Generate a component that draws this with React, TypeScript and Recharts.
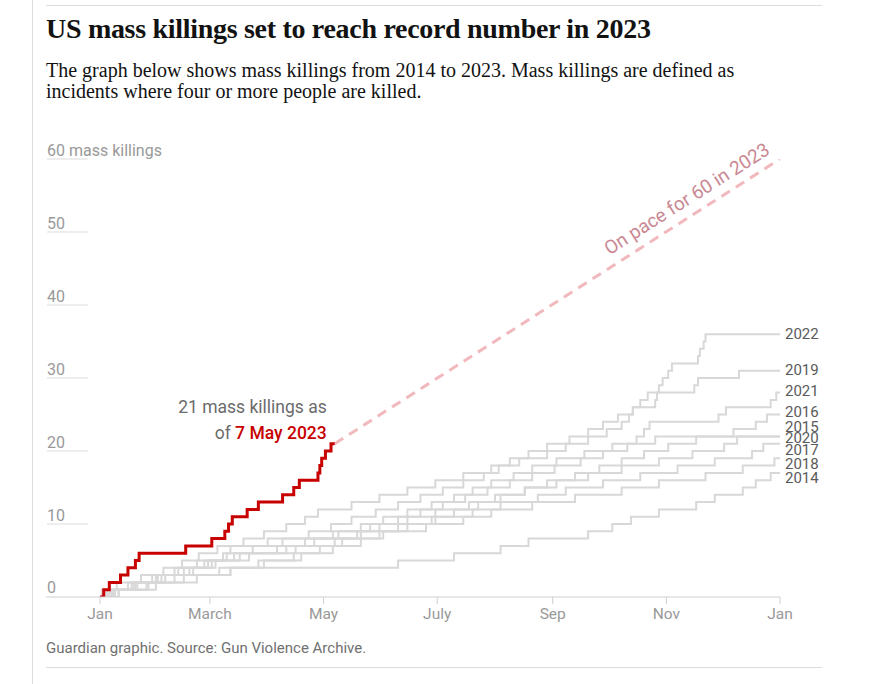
import React from 'react';
import { ComposedChart, Line, XAxis, YAxis, ReferenceDot } from 'recharts';

// ---- categories / ticks ----
const monthTicks = [0, 59, 120, 181, 243, 304, 365];
const monthLabels = ['Jan', 'March', 'May', 'July', 'Sep', 'Nov', 'Jan'];
const yTicks = [0, 10, 20, 30, 40, 50, 60];
const yTickLabels = ['0', '10', '20', '30', '40', '50', '60 mass killings'];

// ---- day-of-year of each mass killing, per year ----
const days2014 = [10, 25, 40, 70, 160, 190, 215, 230, 262, 275, 285, 300, 320, 330, 345, 352, 360];
const days2015 = [4, 17, 33, 48, 58, 72, 95, 110, 128, 145, 165, 180, 198, 212, 228, 245, 262, 280, 300, 318, 335, 342];
const days2016 = [6, 26, 45, 64, 85, 108, 125, 140, 152, 165, 178, 190, 203, 215, 228, 240, 255, 268, 280, 292, 305, 320, 340, 352, 358];
const days2017 = [8, 20, 30, 45, 60, 75, 100, 115, 140, 160, 180, 200, 215, 235, 250, 270, 290, 310, 330, 350, 356];
const days2018 = [5, 18, 35, 50, 62, 80, 105, 130, 150, 175, 195, 210, 232, 255, 280, 300, 325, 345, 362];
const days2019 = [7, 19, 31, 42, 56, 68, 82, 98, 112, 124, 135, 148, 160, 172, 184, 195, 206, 214, 220, 230, 240, 252, 262, 270, 278, 286, 298, 299, 319, 321, 343];
const days2020 = [3, 15, 28, 40, 52, 66, 70, 90, 125, 140, 152, 165, 178, 190, 200, 210, 222, 232, 245, 260, 275, 298];
const days2021 = [10, 30, 52, 70, 88, 104, 118, 126, 138, 150, 160, 172, 184, 196, 208, 220, 232, 244, 258, 270, 283, 288, 292, 295, 332, 336, 360, 363];
const days2022 = [1, 9, 22, 34, 44, 53, 63, 77, 88, 100, 110, 117, 135, 150, 165, 180, 195, 210, 225, 240, 250, 262, 272, 280, 284, 286, 290, 294, 300, 302, 305, 307, 321, 322, 324, 325];
const days2023 = [2, 5, 11, 15, 19, 21, 46, 60, 67, 69, 71, 79, 85, 98, 104, 107, 117, 118, 119, 121, 124];

const pastYears = ['2014', '2015', '2016', '2017', '2018', '2019', '2020', '2021', '2022'];
const pastDays = [days2014, days2015, days2016, days2017, days2018, days2019, days2020, days2021, days2022];

const yearEndDay = 365;
const lastDay2023 = 126; // 7 May
const paceTarget = 60;

// label nudges (pixels) so the year names do not collide
const labelNudge: Record<string, number> = {
  '2022': 0, '2019': -1, '2021': -1.5, '2016': -2.5, '2015': -9.5, '2020': 2, '2017': 6, '2018': 6, '2014': 5.5,
};

type Pt = { day: number; v: number };
const cumulative = (days: number[], endDay: number): Pt[] => {
  const pts: Pt[] = [{ day: 0, v: 0 }];
  days.forEach((d, i) => pts.push({ day: d, v: i + 1 }));
  pts.push({ day: endDay, v: days.length });
  return pts;
};

const series = pastYears.map((y, i) => ({ year: y, data: cumulative(pastDays[i], yearEndDay), total: pastDays[i].length }));
const series2023 = cumulative(days2023, lastDay2023);
const paceData: Pt[] = [
  { day: lastDay2023, v: days2023.length },
  { day: yearEndDay, v: paceTarget },
];

const SANS = 'Roboto, "Noto Sans", sans-serif';

const YTick = (props: any) => {
  const { y, payload } = props;
  const idx = yTicks.indexOf(payload.value);
  const label = yTickLabels[idx];
  const isZero = payload.value === 0;
  return (
    <g>
      {isZero ? (
        <line x1={46} x2={100} y1={y} y2={y} stroke="#cfcfcf" strokeWidth={1} />
      ) : (
        <line x1={47} x2={88} y1={y} y2={y} stroke="#dcdcdc" strokeWidth={1} />
      )}
      <text x={47} y={y - (isZero ? 4 : 3)} fill="#999" fontSize={16} fontFamily={SANS}>
        {label}
      </text>
    </g>
  );
};

const YearLabel = (props: any) => {
  const { viewBox, text, nudge } = props;
  const x = viewBox.x + viewBox.width / 2 + 5;
  const y = viewBox.y + viewBox.height / 2 + nudge;
  return (
    <text x={x} y={y} dominantBaseline="central" fill="#5a5a5a" fontSize={15} fontFamily={SANS}>
      {text}
    </text>
  );
};

const NowLabel = (props: any) => {
  const { viewBox } = props;
  const cx = viewBox.x + viewBox.width / 2;
  const cy = viewBox.y + viewBox.height / 2;
  return (
    <g fontFamily={SANS} fontSize={17.5}>
      <text x={cx - 8} y={cy - 31} textAnchor="end" fill="#6b6b6b">
        {`${days2023.length} mass killings as`}
      </text>
      <text x={cx - 8} y={cy - 5} textAnchor="end" fill="#6b6b6b">
        <tspan>of </tspan>
        <tspan fill="#c70000" fontWeight={500}>7 May 2023</tspan>
      </text>
    </g>
  );
};

const PaceLabel = (props: any) => {
  const { viewBox } = props;
  const cx = viewBox.x + viewBox.width / 2 - 9;
  const cy = viewBox.y + viewBox.height / 2 - 6;
  return (
    <text
      x={cx}
      y={cy}
      textAnchor="end"
      fill="#c98893"
      fontSize={19}
      fontFamily={SANS}
      transform={`rotate(-32.4 ${cx} ${cy})`}
    >
      {`On pace for ${paceTarget} in 2023`}
    </text>
  );
};

export default function App() {
  return (
    <div style={{ position: 'absolute', left: 0, top: 0, width: 895, height: 684, background: '#fff', overflow: 'hidden' }}>
      <div style={{ position: 'absolute', left: 32, top: 0, width: 1, height: 684, background: '#dcdcdc' }} />
      <div style={{ position: 'absolute', left: 46, top: 5, width: 776, height: 1, background: '#dcdcdc' }} />
      <div style={{ position: 'absolute', left: 46, top: 667, width: 776, height: 1, background: '#dcdcdc' }} />
      <div
        style={{
          position: 'absolute', left: 46, top: 12, fontFamily: '"Liberation Serif", serif', fontWeight: 700,
          fontSize: 28, lineHeight: '34px', color: '#121212', letterSpacing: -0.3, whiteSpace: 'nowrap',
        }}
      >
        US mass killings set to reach record number in 2023
      </div>
      <div
        style={{
          position: 'absolute', left: 46, top: 60, fontFamily: '"Liberation Serif", serif',
          fontSize: 20, lineHeight: '21px', color: '#121212', whiteSpace: 'nowrap',
        }}
      >
        The graph below shows mass killings from 2014 to 2023. Mass killings are defined as
        <br />
        incidents where four or more people are killed.
      </div>
      <div
        style={{
          position: 'absolute', left: 46, top: 638, fontFamily: SANS, fontSize: 15, lineHeight: '20px', color: '#707070', whiteSpace: 'nowrap',
        }}
      >
        Guardian graphic. Source: Gun Violence Archive.
      </div>
      <div style={{ position: 'absolute', left: 0, top: 0 }}>
        <ComposedChart width={895} height={684} margin={{ top: 159, right: 115, bottom: 57, left: 40 }}>
          <XAxis
            dataKey="day"
            type="number"
            domain={[0, yearEndDay]}
            ticks={monthTicks}
            tickFormatter={(v: number) => monthLabels[monthTicks.indexOf(v)]}
            interval={0}
            height={30}
            axisLine={{ stroke: '#cfcfcf' }}
            tickLine={{ stroke: '#cfcfcf' }}
            tickSize={7}
            tickMargin={4}
            tick={{ fill: '#999', fontSize: 15.5, fontFamily: SANS }}
            allowDataOverflow
          />
          <YAxis
            type="number"
            domain={[0, 60]}
            ticks={yTicks}
            interval={0}
            width={60}
            axisLine={false}
            tickLine={false}
            tick={<YTick />}
            allowDataOverflow
          />
          {series.map((s) => (
            <Line
              key={s.year}
              data={s.data}
              dataKey="v"
              type="stepAfter"
              stroke="#d8d8d8"
              strokeWidth={2}
              dot={false}
              activeDot={false}
              isAnimationActive={false}
            />
          ))}
          <Line
            data={paceData}
            dataKey="v"
            type="linear"
            stroke="#f1b8bd"
            strokeWidth={3}
            strokeDasharray="10 7"
            dot={false}
            activeDot={false}
            isAnimationActive={false}
          />
          <Line
            data={series2023}
            dataKey="v"
            type="stepAfter"
            stroke="#c70000"
            strokeWidth={3}
            dot={false}
            activeDot={false}
            isAnimationActive={false}
          />
          {series.map((s) => (
            <ReferenceDot
              key={`lbl-${s.year}`}
              x={yearEndDay}
              y={s.total}
              r={0}
              fill="none"
              stroke="none"
              label={<YearLabel text={s.year} nudge={labelNudge[s.year]} />}
            />
          ))}
          <ReferenceDot x={lastDay2023} y={days2023.length} r={0} fill="none" stroke="none" label={<NowLabel />} />
          <ReferenceDot x={yearEndDay} y={paceTarget} r={0} fill="none" stroke="none" label={<PaceLabel />} />
        </ComposedChart>
      </div>
    </div>
  );
}
